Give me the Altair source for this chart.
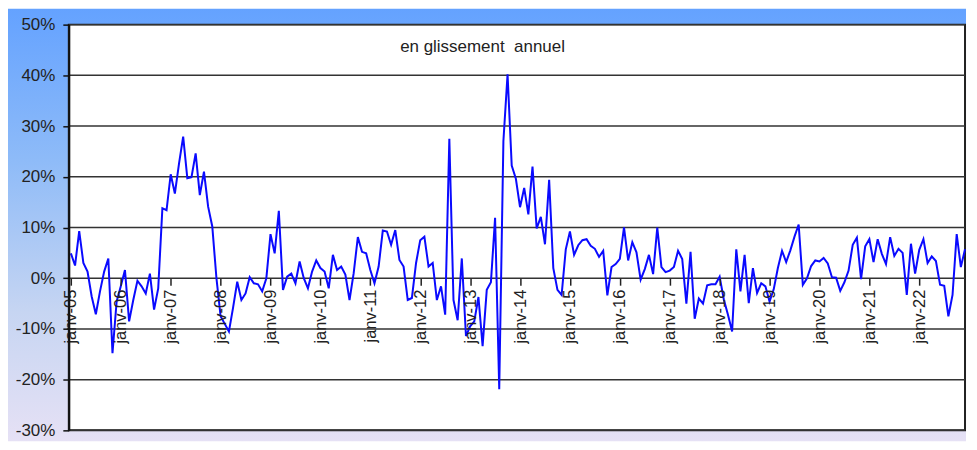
import altair as alt
import pandas as pd

# monthly year-on-year change (%), Jan 2005 .. Dec 2022
y2005 = [4.9, 2.5, 9.3, 3.0, 1.3, -3.6, -7.1, -2.6, 1.3, 3.9, -14.8, -4.6]
y2006 = [-1.6, 1.6, -8.5, -4.3, -0.5, -1.6, -3.0, 0.9, -6.2, -2.0, 13.8, 13.4]
y2007 = [20.5, 16.7, 22.6, 27.9, 19.7, 19.9, 24.6, 16.4, 21.0, 14.1, 10.2, 0.0]
y2008 = [-7.5, -9.0, -10.5, -5.8, -0.7, -4.3, -3.0, 0.2, -1.0, -1.2, -2.6, 0.0]
y2009 = [8.7, 4.9, 13.3, -2.3, 0.3, 0.9, -1.0, 3.3, 0.0, -2.0, 1.3, 3.5]
y2010 = [2.0, 1.3, -2.0, 4.6, 1.6, 2.3, 0.7, -4.3, 1.0, 8.1, 5.2, 4.9]
y2011 = [1.6, -1.0, 2.3, 9.4, 9.2, 6.6, 9.5, 3.6, 2.3, -4.3, -3.9, 3.0]
y2012 = [7.5, 8.2, 2.3, 3.0, -4.3, -1.6, -7.2, 27.5, -4.3, -8.3, 3.9, -11.4]
y2013 = [-9.5, -8.5, -3.7, -13.4, -2.3, -0.8, 11.9, -21.9, 27.0, 40.2, 22.2, 19.6]
y2014 = [14.0, 17.8, 12.6, 22.0, 9.8, 12.1, 6.7, 19.4, 2.0, -2.3, -3.3, 5.7]
y2015 = [9.2, 4.6, 6.5, 7.5, 7.7, 6.4, 5.8, 4.2, 5.4, -3.4, 2.2, 2.8]
y2016 = [3.8, 10.0, 3.5, 7.1, 5.1, -0.3, 1.8, 4.6, 0.8, 10.0, 2.2, 1.2]
y2017 = [1.5, 2.2, 5.4, 3.8, -5.0, 5.2, -8.0, -4.0, -5.0, -1.4, -1.2, -1.2]
y2018 = [0.3, -4.2, -7.2, -10.5, 5.7, -2.6, 4.6, -4.9, 2.0, -2.9, -1.0, -1.6]
y2019 = [-4.6, -2.2, 2.0, 5.4, 3.2, 5.5, 8.2, 10.6, -1.3, 0.0, 2.4, 3.5]
y2020 = [3.3, 4.0, 2.9, 0.2, 0.1, -2.5, -0.8, 1.5, 6.6, 8.0, -0.2, 6.3]
y2021 = [7.7, 3.2, 7.7, 4.8, 2.8, 8.1, 4.4, 5.8, 5.0, -3.3, 6.8, 0.9]
y2022 = [5.6, 7.7, 3.0, 4.3, 3.4, -1.3, -1.5, -7.5, -3.3, 8.7, 2.2, 5.7]

years = [y2005, y2006, y2007, y2008, y2009, y2010, y2011, y2012, y2013,
         y2014, y2015, y2016, y2017, y2018, y2019, y2020, y2021, y2022]

tick_labels = ["janv-05", "janv-06", "janv-07", "janv-08", "janv-09", "janv-10",
               "janv-11", "janv-12", "janv-13", "janv-14", "janv-15", "janv-16",
               "janv-17", "janv-18", "janv-19", "janv-20", "janv-21", "janv-22"]

y_ticks = [-30, -20, -10, 0, 10, 20, 30, 40, 50]
title_text = "en glissement\u00a0 annuel"

values = [v for yr in years for v in yr]
df = pd.DataFrame({"m": list(range(len(values))), "v": values})
one = pd.DataFrame({"k": [0]})
grid_df = pd.DataFrame({"v": y_ticks})

W, H = 899, 407
Y0 = H * 50 / 80
FONT = "Liberation Sans"

yscale = alt.Scale(domain=[-30, 50], nice=False, zero=False)
xscale = alt.Scale(domain=[-0.5, len(values) - 1], nice=False, zero=False)

label_arr = "[" + ",".join("'" + t + "'" for t in tick_labels) + "]"

gradient = {
    "gradient": "linear",
    "x1": 0, "y1": 0, "x2": 0, "y2": 1,
    "stops": [
        {"offset": 0, "color": "#64A2FF"},
        {"offset": 0.35, "color": "#8EBBF8"},
        {"offset": 0.7, "color": "#C6D5F2"},
        {"offset": 1, "color": "#E6E1F5"},
    ],
}

y_axis = alt.Axis(
    values=y_ticks,
    labelExpr="(datum.value < 0 ? '-' : '') + abs(datum.value) + '%'",
    grid=False,
    domain=True,
    domainColor="#111111",
    domainWidth=2,
    ticks=True,
    tickSize=6,
    tickColor="#111111",
    tickWidth=1.5,
    labelFont=FONT,
    labelFontSize=17,
    labelColor="#222222",
    labelPadding=8,
    title=None,
    zindex=1,
)

x_axis = alt.Axis(
    values=[i * 12 for i in range(len(tick_labels))],
    labelExpr=label_arr + "[round(datum.value/12)]",
    labelAngle=270,
    offset=-(H - Y0),
    domain=False,
    grid=False,
    ticks=True,
    tickSize=7,
    tickColor="#222222",
    tickWidth=1.5,
    labelFont=FONT,
    labelFontSize=16.5,
    labelColor="#222222",
    labelPadding=4,
    labelFlush=False,
    labelOverlap=False,
    title=None,
    zindex=1,
)

bg = alt.Chart(one).mark_rect(fill=gradient).encode(
    x=alt.value(-61), x2=alt.value(W + 1), y=alt.value(-16), y2=alt.value(H + 11)
)

plot_bg = alt.Chart(one).mark_rect(fill="white", stroke="#222222", strokeWidth=2).encode(
    x=alt.value(0), x2=alt.value(W), y=alt.value(0), y2=alt.value(H)
)

grid = alt.Chart(grid_df).mark_rule(color="#333333", strokeWidth=1.5).encode(
    y=alt.Y("v:Q", scale=yscale, axis=y_axis)
)

line = alt.Chart(df).mark_line(color="#0A0AFF", strokeWidth=2).encode(
    x=alt.X("m:Q", scale=xscale, axis=x_axis),
    y=alt.Y("v:Q", scale=yscale, axis=y_axis),
)

title = alt.Chart(one).mark_text(
    text=title_text, font=FONT, fontSize=17, color="#222222"
).encode(x=alt.value(415), y=alt.value(22))

chart = alt.layer(bg, plot_bg, grid, line, title).properties(
    width=W, height=H, padding=0
).configure_view(stroke=None)

chart.save("out.html", embed_options={"renderer": "svg", "actions": False})
